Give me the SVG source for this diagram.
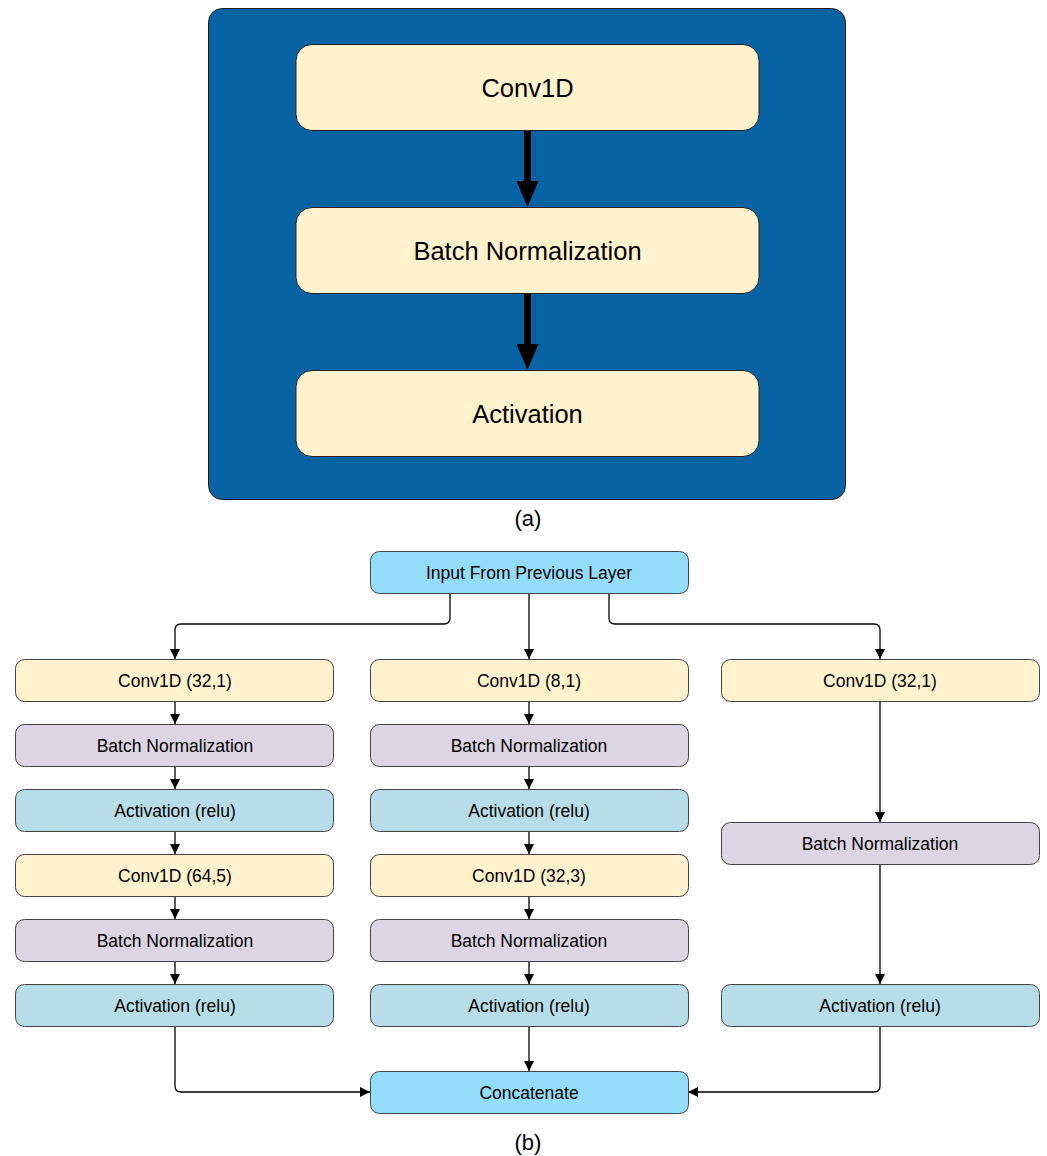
<svg xmlns="http://www.w3.org/2000/svg" width="1047" height="1156" viewBox="0 0 1047 1156">
<style>
text{font-family:"Liberation Sans","Noto Sans",sans-serif;fill:#000;text-anchor:middle;dominant-baseline:central}
.big{font-size:25.5px}
.sm{font-size:17.5px}
.cap{font-size:22px}
.ab{fill:#FFF2CC;stroke:#222;stroke-width:1}
.n{stroke:#444;stroke-width:1}
.conv{fill:#FFF2CC}
.bn{fill:#DCD6E4}
.act{fill:#B7DEE8}
.io{fill:#93DDFA}
.c{fill:none;stroke:#000;stroke-width:1.3}
.thick{fill:none;stroke:#000;stroke-width:7}
</style>
<defs>
<marker id="ah" markerWidth="10" markerHeight="10" refX="10" refY="5" orient="auto" markerUnits="userSpaceOnUse"><path d="M0,0 L10,5 L0,10 Z" fill="#000"/></marker>
<marker id="bh" markerWidth="26" markerHeight="22" refX="14" refY="11" orient="auto" markerUnits="userSpaceOnUse"><path d="M0,0 L26,11 L0,22 Z" fill="#000"/></marker>
</defs>
<g id="panel-a">
<rect x="208.5" y="8.5" width="637" height="491" rx="14" fill="#0763A4" stroke="#1a1a1a" stroke-width="1"/>
</g>
<g id="a-conv"><rect class="ab" x="296" y="44.5" width="463" height="86" rx="16"/><text class="big" x="527.5" y="88">Conv1D</text></g>
<g id="a-bn"><rect class="ab" x="296" y="207.5" width="463" height="86" rx="16"/><text class="big" x="527.5" y="251">Batch Normalization</text></g>
<g id="a-act"><rect class="ab" x="296" y="370.5" width="463" height="86" rx="16"/><text class="big" x="527.5" y="414">Activation</text></g>
<text class="cap" x="528" y="518">(a)</text>

<g id="connectors">
<line class="thick" x1="527.5" y1="131" x2="527.5" y2="195" marker-end="url(#bh)"/>
<line class="thick" x1="527.5" y1="294" x2="527.5" y2="358" marker-end="url(#bh)"/>
<path class="c" d="M450,593 V618 Q450,624 444,624 H181 Q175,624 175,630 V659" marker-end="url(#ah)"/>
<path class="c" d="M529,593 V659" marker-end="url(#ah)"/>
<path class="c" d="M609,593 V618 Q609,624 615,624 H874 Q880,624 880,630 V659" marker-end="url(#ah)"/>
<path class="c" d="M175,701 V724" marker-end="url(#ah)"/>
<path class="c" d="M175,766 V789" marker-end="url(#ah)"/>
<path class="c" d="M175,831 V854" marker-end="url(#ah)"/>
<path class="c" d="M175,896 V919" marker-end="url(#ah)"/>
<path class="c" d="M175,961 V984" marker-end="url(#ah)"/>
<path class="c" d="M529,701 V724" marker-end="url(#ah)"/>
<path class="c" d="M529,766 V789" marker-end="url(#ah)"/>
<path class="c" d="M529,831 V854" marker-end="url(#ah)"/>
<path class="c" d="M529,896 V919" marker-end="url(#ah)"/>
<path class="c" d="M529,961 V984" marker-end="url(#ah)"/>
<path class="c" d="M880,701 V822" marker-end="url(#ah)"/>
<path class="c" d="M880,864 V984" marker-end="url(#ah)"/>
<path class="c" d="M175,1026 V1086 Q175,1092 181,1092 H370" marker-end="url(#ah)"/>
<path class="c" d="M529,1026 V1071" marker-end="url(#ah)"/>
<path class="c" d="M880,1026 V1086 Q880,1092 874,1092 H688" marker-end="url(#ah)"/>
</g>

<g id="input"><rect class="n io" x="370.5" y="551.5" width="318" height="42" rx="9"/><text class="sm" x="529" y="572.5">Input From Previous Layer</text></g>

<g id="l-conv1"><rect class="n conv" x="15.5" y="659.5" width="318" height="42" rx="9"/><text class="sm" x="175" y="680.5">Conv1D (32,1)</text></g>
<g id="l-bn1"><rect class="n bn" x="15.5" y="724.5" width="318" height="42" rx="9"/><text class="sm" x="175" y="745.5">Batch Normalization</text></g>
<g id="l-act1"><rect class="n act" x="15.5" y="789.5" width="318" height="42" rx="9"/><text class="sm" x="175" y="810.5">Activation (relu)</text></g>
<g id="l-conv2"><rect class="n conv" x="15.5" y="854.5" width="318" height="42" rx="9"/><text class="sm" x="175" y="875.5">Conv1D (64,5)</text></g>
<g id="l-bn2"><rect class="n bn" x="15.5" y="919.5" width="318" height="42" rx="9"/><text class="sm" x="175" y="940.5">Batch Normalization</text></g>
<g id="l-act2"><rect class="n act" x="15.5" y="984.5" width="318" height="42" rx="9"/><text class="sm" x="175" y="1005.5">Activation (relu)</text></g>

<g id="m-conv1"><rect class="n conv" x="370.5" y="659.5" width="318" height="42" rx="9"/><text class="sm" x="529" y="680.5">Conv1D (8,1)</text></g>
<g id="m-bn1"><rect class="n bn" x="370.5" y="724.5" width="318" height="42" rx="9"/><text class="sm" x="529" y="745.5">Batch Normalization</text></g>
<g id="m-act1"><rect class="n act" x="370.5" y="789.5" width="318" height="42" rx="9"/><text class="sm" x="529" y="810.5">Activation (relu)</text></g>
<g id="m-conv2"><rect class="n conv" x="370.5" y="854.5" width="318" height="42" rx="9"/><text class="sm" x="529" y="875.5">Conv1D (32,3)</text></g>
<g id="m-bn2"><rect class="n bn" x="370.5" y="919.5" width="318" height="42" rx="9"/><text class="sm" x="529" y="940.5">Batch Normalization</text></g>
<g id="m-act2"><rect class="n act" x="370.5" y="984.5" width="318" height="42" rx="9"/><text class="sm" x="529" y="1005.5">Activation (relu)</text></g>

<g id="r-conv1"><rect class="n conv" x="721.5" y="659.5" width="318" height="42" rx="9"/><text class="sm" x="880" y="680.5">Conv1D (32,1)</text></g>
<g id="r-bn1"><rect class="n bn" x="721.5" y="822.5" width="318" height="42" rx="9"/><text class="sm" x="880" y="843.5">Batch Normalization</text></g>
<g id="r-act1"><rect class="n act" x="721.5" y="984.5" width="318" height="42" rx="9"/><text class="sm" x="880" y="1005.5">Activation (relu)</text></g>

<g id="concat"><rect class="n io" x="370.5" y="1071.5" width="318" height="42" rx="9"/><text class="sm" x="529" y="1092.5">Concatenate</text></g>
<text class="cap" x="528" y="1142">(b)</text>
</svg>
